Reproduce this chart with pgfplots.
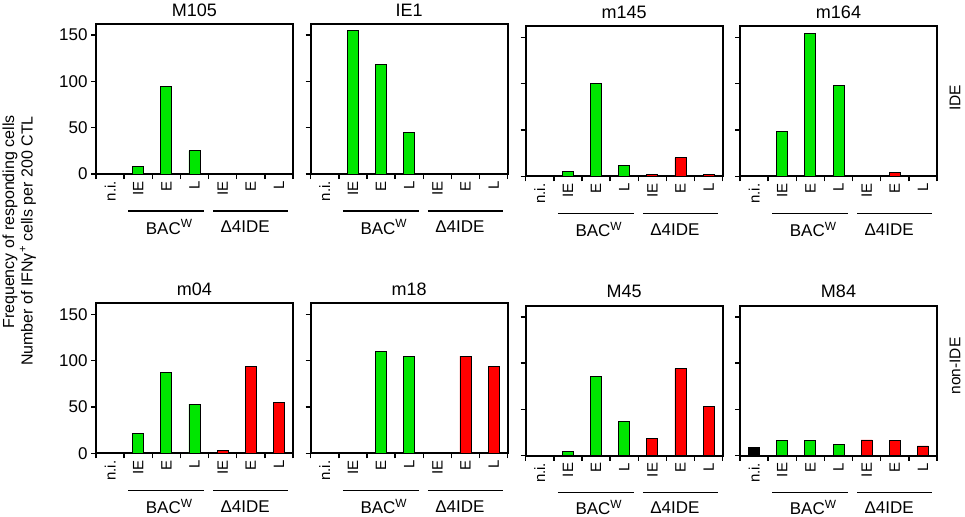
\documentclass[border=0pt]{standalone}
\usepackage{fontspec}
\setmainfont{Liberation Sans}
\usepackage{pgfplots}
\pgfplotsset{compat=1.18}
\definecolor{bargreen}{RGB}{0,230,0}
\definecolor{barred}{RGB}{255,0,0}
\pgfplotsset{
  panel/.style={
    scale only axis, width=197bp, height=150bp,
    anchor=south west,
    xmin=-0.5, xmax=6.5, ymin=0, ymax=162,
    clip=false,
    axis line style={line width=2bp},
    every tick/.style={black, line width=1.5bp},
    major tick length=5bp,
    tick align=outside, xtick pos=bottom, ytick pos=left,
    xtick={-0.5,0.5,...,6.5}, xticklabels={},
    extra x ticks={0,1,...,6},
    extra x tick labels={n.i.,IE,E,L,IE,E,L},
    extra x tick style={major tick length=0pt,
      xticklabel style={yshift=-7bp, rotate=90, anchor=east, inner sep=0pt, font=\fontsize{15bp}{15bp}\selectfont}},
    ytick={0,50,100,150},
    yticklabel style={font=\fontsize{17bp}{17bp}\selectfont},
    /pgf/number format/assume math mode=true,
  },
  noylab/.style={yticklabels={}},
  gbar/.style={ybar, bar width=11bp, bar shift=0pt, fill=bargreen, draw=black, line width=0.9bp},
  rbar/.style={ybar, bar width=11bp, bar shift=0pt, fill=barred, draw=black, line width=0.9bp},
  kbar/.style={ybar, bar width=11bp, bar shift=0pt, fill=black, draw=black, line width=0.9bp},
}
\newcommand\deco[2][53bp]{%
  \node[font=\fontsize{18bp}{18bp}\selectfont, inner sep=0pt] at ([yshift=14bp]rel axis cs:0.5,1) {#2};
  \draw[line width=1.4bp] ([yshift=-37bp]axis cs:0.64,0) -- ([yshift=-37bp]axis cs:3.34,0);
  \draw[line width=1.4bp] ([yshift=-37bp]axis cs:3.66,0) -- ([yshift=-37bp]axis cs:6.34,0);
  \node[font=\fontsize{17bp}{17bp}\selectfont, inner sep=0pt] at ([yshift=-#1]axis cs:2.1,0) {BAC\textsuperscript{W}};
  \node[font=\fontsize{17bp}{17bp}\selectfont, inner sep=0pt] at ([yshift=-#1]axis cs:4.8,0) {Δ4IDE};
}
\begin{document}
\begin{tikzpicture}
\path[use as bounding box] (0,0) rectangle (965bp,-517bp);
% ---------- top row (IDE) ----------
\begin{axis}[panel, at={(96bp,-174bp)}]
\addplot[gbar] coordinates {(1,8) (2,95) (3,25)};
\deco{M105}
\end{axis}
\begin{axis}[panel, noylab, at={(310.7bp,-174bp)}]
\addplot[gbar] coordinates {(1,155) (2,118) (3,45)};
\deco{IE1}
\end{axis}
\begin{axis}[panel, noylab, at={(525.7bp,-176.3bp)}]
\addplot[gbar] coordinates {(1,5) (2,100) (3,12)};
\addplot[rbar] coordinates {(4,2) (5,20) (6,2)};
\deco{m145}
\end{axis}
\begin{axis}[panel, noylab, at={(740bp,-176.3bp)}]
\addplot[gbar] coordinates {(1,48) (2,154) (3,98)};
\addplot[rbar] coordinates {(5,4.5) (6,1)};
\deco{m164}
\end{axis}
% ---------- bottom row (non-IDE) ----------
\begin{axis}[panel, at={(96bp,-453.3bp)}]
\addplot[gbar] coordinates {(1,21) (2,87) (3,53)};
\addplot[rbar] coordinates {(4,3) (5,94) (6,55)};
\deco[53.5bp]{m04}
\end{axis}
\begin{axis}[panel, noylab, at={(310.7bp,-453.3bp)}]
\addplot[gbar] coordinates {(2,110) (3,105)};
\addplot[rbar] coordinates {(5,105) (6,94)};
\deco[53.5bp]{m18}
\end{axis}
\begin{axis}[panel, noylab, at={(525.7bp,-455.7bp)}]
\addplot[gbar] coordinates {(1,5) (2,86) (3,37)};
\addplot[rbar] coordinates {(4,19) (5,94) (6,53)};
\deco[51.5bp]{M45}
\end{axis}
\begin{axis}[panel, noylab, at={(740bp,-455.7bp)}]
\addplot[kbar] coordinates {(0,9)};
\addplot[gbar] coordinates {(1,16.5) (2,16.5) (3,12.5)};
\addplot[rbar] coordinates {(4,17) (5,16) (6,10.5)};
\deco[51.5bp]{M84}
\end{axis}
% ---------- outer labels ----------
\node[rotate=90, font=\fontsize{16bp}{16bp}\selectfont, inner sep=0pt] at (10bp,-222bp) {Frequency of responding cells};
\node[rotate=90, font=\fontsize{16bp}{16bp}\selectfont, inner sep=0pt] at (28bp,-241bp) {Number of IFNγ\textsuperscript{+} cells per 200 CTL};
\node[rotate=90, font=\fontsize{15.5bp}{15.5bp}\selectfont, inner sep=0pt] at (955bp,-98bp) {IDE};
\node[rotate=90, font=\fontsize{15.5bp}{15.5bp}\selectfont, inner sep=0pt] at (955bp,-366bp) {non-IDE};
\end{tikzpicture}
\end{document}
